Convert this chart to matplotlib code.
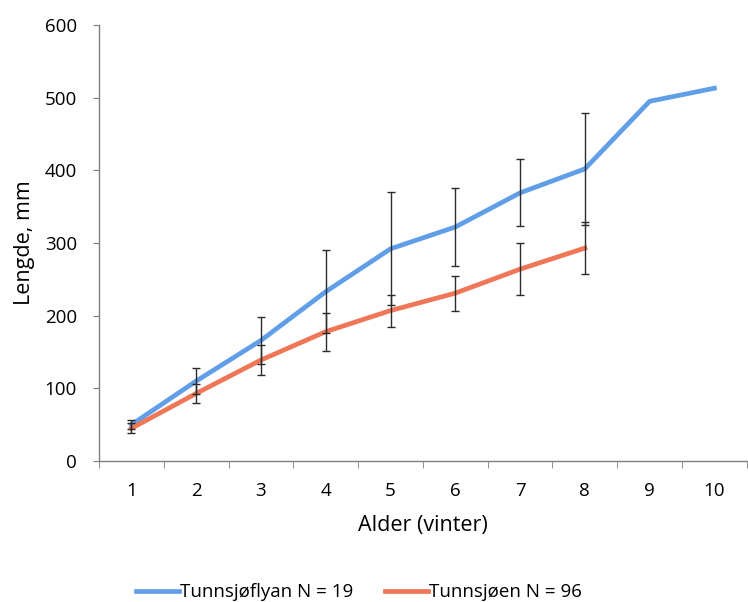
import matplotlib.pyplot as plt

plt.rcParams['font.family'] = ['Open Sans', 'DejaVu Sans']

alder = [1, 2, 3, 4, 5, 6, 7, 8, 9, 10]

# Tunnsjøflyan N = 19
flyan_len = [50, 110, 166, 233, 292, 322, 369, 402, 495, 513]
flyan_sd = [6, 18, 32, 57, 78, 54, 46, 77]

# Tunnsjøen N = 96
sjoen_alder = [1, 2, 3, 4, 5, 6, 7, 8]
sjoen_len = [45, 93, 139, 178, 207, 231, 264, 293]
sjoen_sd = [7, 13, 21, 26, 22, 24, 36, 36]

blue = '#619ee8'
orange = '#ef7656'

fig = plt.figure(figsize=(7.48, 6.02), dpi=100)
ax = fig.add_axes([0.1324, 0.2342, 0.866, 0.7243])

ax.plot(alder, flyan_len, color=blue, linewidth=3.4, label='Tunnsjøflyan N = 19', zorder=2)
ax.plot(sjoen_alder, sjoen_len, color=orange, linewidth=3.4, label='Tunnsjøen N = 96', zorder=2)

ax.errorbar(alder[:8], flyan_len[:8], yerr=flyan_sd, fmt='none', ecolor='#2b2b2b',
            elinewidth=1, capsize=3.2, capthick=1, zorder=3)
ax.errorbar(sjoen_alder, sjoen_len, yerr=sjoen_sd, fmt='none', ecolor='#2b2b2b',
            elinewidth=1, capsize=3.2, capthick=1, zorder=3)

ax.set_xlim(0.5, 10.5)
ax.set_ylim(0, 600)
ax.set_yticks(range(0, 601, 100))
ax.set_xticks(alder)
ax.set_xticks([i + 0.5 for i in range(0, 11)], minor=True)

for s in ['top', 'right']:
    ax.spines[s].set_visible(False)
for s in ['left', 'bottom']:
    ax.spines[s].set_color('#7f7f7f')
    ax.spines[s].set_linewidth(1)

ax.tick_params(axis='x', which='major', length=0, pad=15, labelsize=13.5)
ax.tick_params(axis='x', which='minor', length=5, color='#7f7f7f', direction='out')
ax.tick_params(axis='y', length=4, color='#7f7f7f', pad=12, labelsize=13.5)

ax.set_xlabel('Alder (vinter)', fontsize=15.5, labelpad=11)
ax.set_ylabel('Lengde, mm', fontsize=15.5, labelpad=7)

fig.legend(loc='lower center', ncol=2, frameon=False, fontsize=13.5,
           bbox_to_anchor=(0.48, -0.027), handlelength=2.3, handletextpad=0.05,
           columnspacing=1.7)

plt.savefig('out.png', dpi=100)
